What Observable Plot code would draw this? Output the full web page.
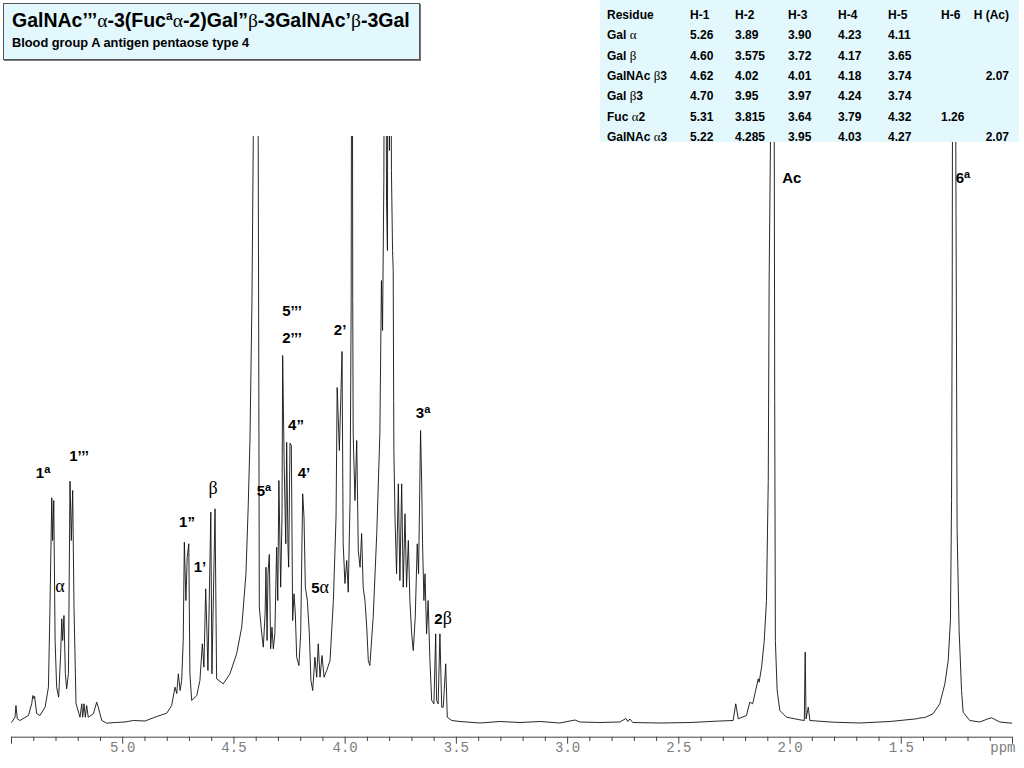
<!DOCTYPE html>
<html>
<head>
<meta charset="utf-8">
<script src="https://cdn.jsdelivr.net/npm/d3@7"></script>
<script src="https://cdn.jsdelivr.net/npm/@observablehq/plot@0.6"></script>
<style>
  html, body { margin: 0; padding: 0; background: #fff; }
  #wrap { position: relative; width: 1024px; height: 768px; overflow: hidden; background: #fff; }
  #chart { position: absolute; left: 0; top: 0; }
  #titlebox { position: absolute; left: 3px; top: 3px; background: #e2f8fc; border: 1px solid #555;
    box-shadow: 1px 1px 0 #777; padding: 5px 9px 7px 8px; font-family: "Liberation Sans", Arial, sans-serif; color: #000; }
  #title { font-size: 19.5px; font-weight: bold; line-height: 22px; white-space: nowrap; }
  #subtitle { font-size: 12.8px; font-weight: bold; line-height: 18px; white-space: nowrap; }
  .g { font-family: "Liberation Serif", "Times New Roman", serif; font-weight: normal; }
  .sup { font-size: 12px; position: relative; top: -7px; }
  #table { position: absolute; left: 600px; top: 0; width: 419px; height: 142px; background: #e2f8fc;
    font-family: "Liberation Sans", Arial, sans-serif; font-weight: bold; font-size: 12px; color: #000; }
  .cell { position: absolute; white-space: nowrap; line-height: 14px; }
  .cell .g { font-size: 13px; }
</style>
</head>
<body>
<div id="wrap">
  <div id="chart"></div>
  <div id="titlebox">
    <div id="title">GalNAc’’’<span class="g">α</span>-3(Fuc<span class="sup">a</span><span class="g">α</span>-2)Gal”<span class="g">β</span>-3GalNAc’<span class="g">β</span>-3Gal</div>
    <div id="subtitle">Blood group A antigen pentaose type 4</div>
  </div>
  <div id="table"></div>
</div>
<script>
// ---- Spectrum (chemical shift in ppm, intensity in arbitrary units) ----
const shiftPpm = [5.499, 5.484, 5.480, 5.474, 5.462, 5.424, 5.409, 5.404, 5.399, 5.396, 5.387, 5.372, 5.349, 5.334, 5.327, 5.319, 5.315, 5.310, 5.304, 5.297, 5.288, 5.279, 5.274, 5.270, 5.264, 5.258, 5.252, 5.244, 5.237, 5.231, 5.225, 5.219, 5.210, 5.192, 5.184, 5.180, 5.174, 5.168, 5.162, 5.155, 5.132, 5.117, 5.110, 5.094, 5.072,
  5.035, 4.990, 4.952, 4.900, 4.847, 4.802,
  4.780, 4.765, 4.757, 4.750, 4.742, 4.735, 4.728, 4.723, 4.716, 4.710, 4.703, 4.698, 4.690,
  4.667, 4.653, 4.642, 4.635, 4.627, 4.622, 4.617, 4.611, 4.604, 4.599, 4.585, 4.578,
  4.548, 4.518, 4.488, 4.465, 4.446, 4.436, 4.428, 4.419, 4.413, 4.402, 4.391,
  4.388, 4.386, 4.375, 4.368, 4.360, 4.356, 4.351, 4.347, 4.341, 4.335, 4.329, 4.323, 4.316, 4.308, 4.303, 4.298, 4.290, 4.284,
  4.281, 4.274, 4.267, 4.263, 4.257, 4.254, 4.248, 4.242, 4.236, 4.230, 4.224, 4.218, 4.208,
  4.200, 4.191, 4.185, 4.179, 4.170, 4.161, 4.154, 4.146, 4.136, 4.128, 4.121, 4.113, 4.104, 4.095, 4.083, 4.068,
  4.053, 4.041, 4.036, 4.026, 4.014, 4.009, 4.001, 3.993, 3.986, 3.978, 3.973, 3.969, 3.966,
  3.964, 3.956, 3.948, 3.941, 3.933, 3.926, 3.919, 3.911, 3.903, 3.896, 3.889, 3.874, 3.858, 3.844,
  3.837, 3.832, 3.826, 3.821, 3.814, 3.810, 3.806, 3.801, 3.797, 3.792, 3.787, 3.784, 3.782, 3.781,
  3.776, 3.769, 3.761, 3.754, 3.746, 3.739, 3.731, 3.724, 3.716, 3.709, 3.701, 3.694, 3.685, 3.676, 3.670,
  3.661, 3.656, 3.652, 3.646, 3.641, 3.634, 3.627, 3.619, 3.611, 3.601, 3.593, 3.589, 3.582, 3.574, 3.566, 3.559, 3.548, 3.541, 3.521,
  3.484, 3.394, 3.304, 3.214, 3.124, 3.035, 2.967, 2.945, 2.855, 2.765, 2.738, 2.729, 2.720, 2.707, 2.585, 2.450, 2.405, 2.316, 2.256,
  2.244, 2.233, 2.196, 2.181, 2.168, 2.158, 2.143, 2.139, 2.128, 2.116, 2.106, 2.098, 2.094, 2.088, 2.080, 2.071, 2.069, 2.066, 2.058, 2.046, 2.016,
  1.956, 1.936, 1.932, 1.928, 1.918, 1.911, 1.806, 1.686, 1.551, 1.431, 1.417, 1.394,
  1.357, 1.327, 1.304, 1.289, 1.279, 1.274, 1.271, 1.270, 1.262, 1.255, 1.249, 1.240, 1.229, 1.222, 1.192, 1.147, 1.110, 1.094, 1.057, 1.004];

const intensity = [-0.2, 4.8, 16.5, 3.2, 1.5, 6.5, 18.5, 26.5, 23.5, 25.5, 8.5, 6.5, 14.8, 34.8, 114.8, 224.2, 181.5, 221.5, 81.5, 34.8, 24.8, 68.5, 103.2, 81.5, 106.5, 48.5, 33.2, 48.5, 240.8, 181.5, 231.5, 114.8, 18.5, 4.8, 18.2, 4.8, 18.2, 4.8, 16.5, 4.8, 8.2, 19.8, 14.8, 1.5, -1.2,
  -0.5, 0, 1.5, 1, 5.5, 8.8,
  16.5, 34.8, 28.5, 48.2, 31.5, 41.5, 81.5, 179.8, 121.5, 164.8, 178.2, 48.2, 21.5,
  26.5, 41.5, 78.2, 54.8, 133.2, 94.8, 51.5, 121.5, 209.8, 48.2, 213.2, 43.2,
  38.2, 48.2, 68.2, 94.8, 148.2, 214.8, 281.5, 421.5, 585.5, 1120, 585.5,
  321.5, 114.8, 88.2, 74.8, 108.2, 154.8, 81.5, 148.2, 167.5, 73.2, 94.8, 73.2, 88.2, 174.8, 121.5, 241.5, 134.8, 204.8,
  366.5, 254.8, 178.2, 279.8, 174.8, 154.8, 278.8, 276.5, 101.5, 128.2, 108.2, 64.8, 56.5,
  88.2, 228.2, 204.8, 134.8, 121.5, 88.2, 41.5, 31.5, 64.8, 44.8, 78.2, 44.8, 66.5, 44.8, 51.5, 61.5,
  121.5, 204.8, 334.5, 271.5, 370.5, 178.5, 138.5, 161.5, 129.8, 221.5, 421.5, 1020, 421.5,
  288.5, 221.5, 281.5, 171.5, 154.8, 188.5, 134.8, 121.5, 94.8, 61.5, 56.5, 104.8, 188.5, 288.5,
  441.5, 391.5, 543.5, 1020, 521.5, 471.5, 1020, 571.5, 920, 551.5, 471.5, 451.5, 321.5, 271.5,
  204.8, 148.2, 238.2, 141.5, 238.2, 134.8, 208.2, 134.8, 181.5, 121.5, 88.2, 71.5, 104.8, 178.2, 148.2,
  291.5, 238.2, 178.2, 121.5, 148.2, 88.2, 121.5, 61.5, 21.5, 18.2, 88.2, 21.5, 18.2, 88.2, 14.8, 14.8, 58.2, 4.8, 1.5,
  0.5, -1, 0.5, -0.5, 0.5, -1, 2, 0, -0.5, 0, 3.5, 0.5, 3, -0.5, -1, -0.5, 0, 1, 1.5,
  18.2, 3.2, 6.5, 19.8, 18.2, 28.2, 43.2, 39.8, 54.8, 81.5, 121.5, 241.5, 441.5, 581.5, 1120, 581.5, 321.5, 81.5, 31.5, 11.5, 4.8,
  2.2, 1.5, 69.8, 3.2, 14.8, 1.5, -0.2, -1, 0.5, 3.2, 4, 4.5,
  8.2, 18.2, 38.2, 61.5, 101.5, 221.5, 421.5, 585.5, 1120, 585.5, 191.5, 91.5, 31.5, 9.8, 1.5, 0, 3.2, 4.2, 0, -1.2];

// ---- Peak assignments (label, shift, label height) ----
const peakLabels  = ["1^a", "1’’’", "~α", "1”", "1’", "~β", "5^a", "5’’’", "2’’’", "4”", "4’", "2’", "5~α", "3^a", "2~β", "Ac", "6^a"];
const peakLabelPpm = [5.358, 5.196, 5.282, 4.711, 4.653, 4.594, 4.365, 4.239, 4.239, 4.221, 4.185, 4.023, 4.113, 3.650, 3.560, 1.992, 1.223];
const peakLabelY   = [248.5, 265.5, 134.5, 199.5, 154.5, 232.5, 230.5, 410.5, 383.5, 296.5, 248.5, 391.5, 133.5, 308.5, 102.5, 543.5, 543.5];

// ---- Axis ticks ----
const majorTicks = [5.5, 5.0, 4.5, 4.0, 3.5, 3.0, 2.5, 2.0, 1.5, 1.0];
const tickLabels = ["", "5.0", "4.5", "4.0", "3.5", "3.0", "2.5", "2.0", "1.5", "ppm"];
const minorTicks = d3.range(10, 56).map(i => i / 10).filter(v => !majorTicks.some(m => Math.abs(m - v) < 1e-9));

// ---- Table of chemical shifts ----
const residues = ["Gal ~α", "Gal ~β", "GalNAc ~β3", "Gal ~β3", "Fuc ~α2", "GalNAc ~α3"];
const tableHeaders = ["Residue", "H-1", "H-2", "H-3", "H-4", "H-5", "H-6", "H (Ac)"];
const h1 = ["5.26", "4.60", "4.62", "4.70", "5.31", "5.22"];
const h2 = ["3.89", "3.575", "4.02", "3.95", "3.815", "4.285"];
const h3 = ["3.90", "3.72", "4.01", "3.97", "3.64", "3.95"];
const h4 = ["4.23", "4.17", "4.18", "4.24", "3.79", "4.03"];
const h5 = ["4.11", "3.65", "3.74", "3.74", "4.32", "4.27"];
const h6 = ["", "", "", "", "1.26", ""];
const hAc = ["", "", "2.07", "", "", "2.07"];

// build spectrum table for the line mark
const spectrum = shiftPpm.map((p, i) => ({ppm: p, y: intensity[i]}));
const labelsData = peakLabels.map((t, i) => ({t, ppm: peakLabelPpm[i], y: peakLabelY[i]}));
const tickData = majorTicks.map((v, i) => ({v, label: tickLabels[i]}));

const baseY = -15.2;
const svg = Plot.plot({
  width: 1024,
  height: 768,
  marginLeft: 11,
  marginRight: 12,
  marginTop: 136,
  marginBottom: 31.3,
  style: {background: "transparent"},
  x: {domain: [5.5, 1.0], axis: null},
  y: {domain: [baseY, 585.5], axis: null},
  marks: [
    Plot.line(spectrum, {x: "ppm", y: "y", stroke: "#111", strokeWidth: 0.9, clip: true, curve: "linear"}),
    Plot.ruleY([baseY], {stroke: "#444", strokeWidth: 1}),
    Plot.ruleX(minorTicks, {x: d => d, y1: baseY, y2: baseY - 4.3, stroke: "#444"}),
    Plot.ruleX(majorTicks, {x: d => d, y1: baseY, y2: baseY - 7, stroke: "#444"}),
    Plot.text(tickData.filter(d => d.label && d.label !== "ppm"), {x: "v", y: baseY - 10, text: "label",
      fontFamily: "Liberation Mono, DejaVu Sans Mono, monospace", fontSize: 14, fill: "#7d7d7d"}),
    Plot.text(tickData.filter(d => d.label === "ppm"), {x: "v", y: baseY - 10, text: "label", textAnchor: "end", dx: 3,
      fontFamily: "Liberation Mono, DejaVu Sans Mono, monospace", fontSize: 14, fill: "#7d7d7d"}),
    Plot.text(labelsData, {x: "ppm", y: "y", text: "t", fontFamily: "Liberation Sans, Arial, sans-serif",
      fontWeight: "bold", fontSize: 15, fill: "#000"})
  ]
});

// rich text: ^x = superscript, ~x = Greek letter in regular serif
d3.select(svg).selectAll("text").each(function () {
  const t = this.textContent;
  if (!/[\^~]/.test(t)) return;
  const sel = d3.select(this);
  sel.text(null);
  for (let i = 0; i < t.length; i++) {
    const c = t[i];
    if (c === "^") {
      sel.append("tspan").attr("font-size", 11).attr("font-weight", "bold").attr("dy", "-0.5em").text(t[++i]);
    } else if (c === "~") {
      sel.append("tspan").attr("font-family", "Liberation Serif, serif").attr("font-weight", "normal")
        .attr("font-size", 18).text(t[++i]);
    } else {
      sel.append("tspan").text(c);
    }
  }
});
document.getElementById("chart").appendChild(svg);

// ---- table ----
const table = document.getElementById("table");
const colLeft = [7, 90, 135, 188, 238, 288, 341, null];
const acRight = 10;
const rowCenter = i => 15 + i * 20.35;
function richHTML(s) {
  return s.replace(/~(.)/g, '<span class="g">$1</span>');
}
function addCell(html, row, col, rightAlign) {
  const d = document.createElement("div");
  d.className = "cell";
  d.innerHTML = html;
  d.style.top = (rowCenter(row) - 7) + "px";
  if (rightAlign) d.style.right = acRight + "px";
  else d.style.left = colLeft[col] + "px";
  table.appendChild(d);
}
tableHeaders.forEach((h, c) => addCell(h, 0, c, c === 7));
const cols = [h1, h2, h3, h4, h5, h6, hAc];
residues.forEach((r, i) => {
  addCell(richHTML(r), i + 1, 0, false);
  cols.forEach((col, c) => { if (col[i]) addCell(col[i], i + 1, c + 1, c === 6); });
});
</script>
</body>
</html>
